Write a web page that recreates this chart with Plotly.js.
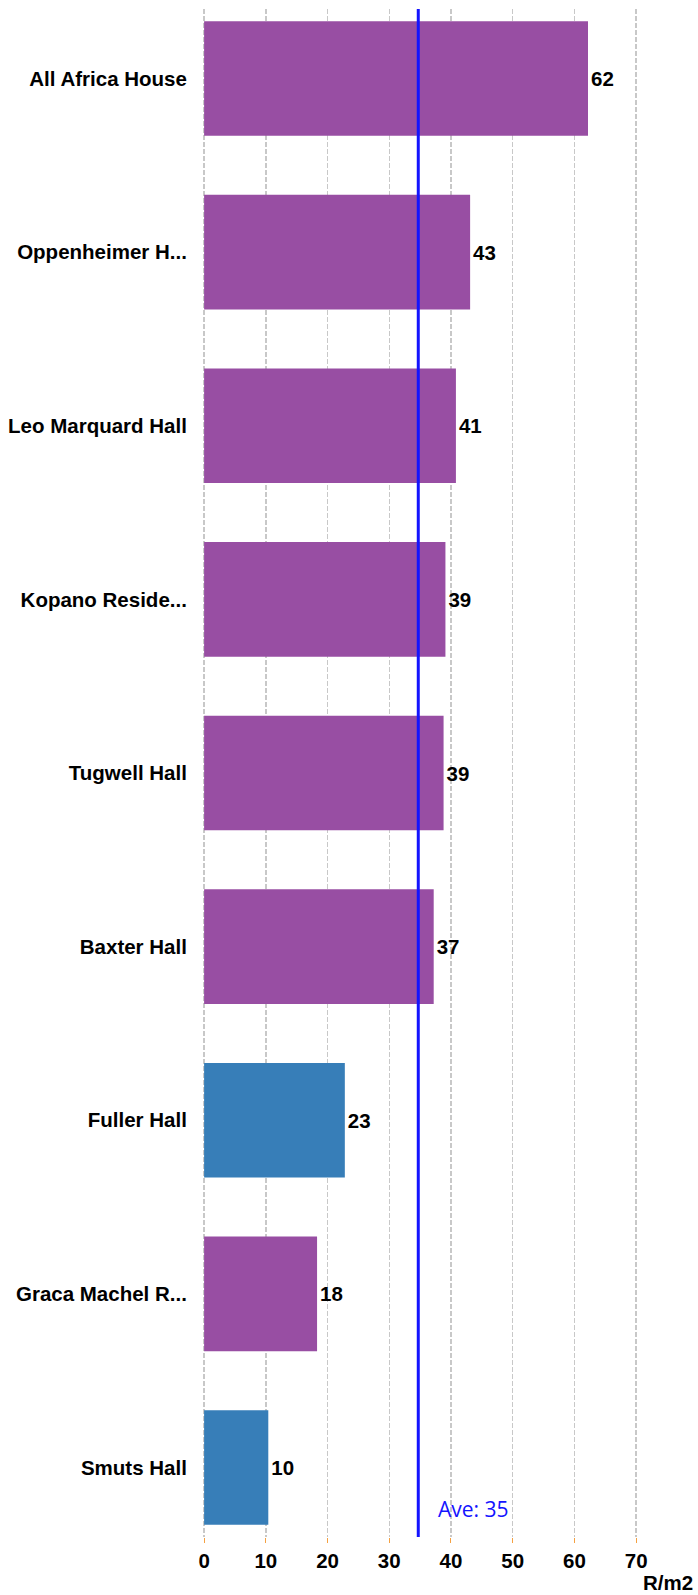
<!DOCTYPE html>
<html>
<head>
<meta charset="utf-8">
<script src="https://cdn.plot.ly/plotly-3.0.1.min.js"></script>
<style>html,body{margin:0;padding:0;background:#fff;}#chart{width:698px;height:1595px;}</style>
</head>
<body>
<div id="chart"></div>
<script>
// Data
const categories = ["All Africa House", "Oppenheimer H...", "Leo Marquard Hall", "Kopano Reside...", "Tugwell Hall", "Baxter Hall", "Fuller Hall", "Graca Machel R...", "Smuts Hall"];
const values = [62.2, 43.1, 40.8, 39.1, 38.8, 37.2, 22.8, 18.3, 10.4];
const groups = ["other", "other", "other", "other", "other", "other", "highlight", "other", "highlight"];
const average = 34.7;
const xTicks = [0, 10, 20, 30, 40, 50, 60, 70];
const xAxisLabel = "R/m2";

const groupColors = { other: "#984ea3", highlight: "#377eb8" };
const boldFont = { family: "Liberation Sans", size: 20.5, color: "#000", weight: "bold" };

const trace = {
  type: "bar",
  orientation: "h",
  y: categories,
  x: values,
  width: 0.66,
  marker: { color: groups.map(g => groupColors[g]) },
  text: values.map(v => String(Math.round(v))),
  textposition: "outside",
  textfont: boldFont,
  cliponaxis: false,
  hoverinfo: "none"
};

const layout = {
  width: 698,
  height: 1595,
  margin: { l: 203, r: 31, t: 9, b: 58 },
  paper_bgcolor: "#fff",
  plot_bgcolor: "#fff",
  showlegend: false,
  xaxis: {
    range: [-0.18, 75],
    tickvals: xTicks,
    ticktext: xTicks.map(String),
    showgrid: true,
    gridcolor: "#c8c8c8",
    griddash: "5px,2px",
    gridwidth: 1.5,
    zeroline: false,
    showline: false,
    ticks: "outside",
    ticklen: 5,
    tickcolor: "#f5a142",
    tickfont: boldFont
  },
  yaxis: {
    type: "category",
    range: [8.4, -0.4],
    autorange: false,
    showgrid: false,
    zeroline: false,
    showline: false,
    ticks: "outside",
    ticklen: 11,
    tickcolor: "rgba(0,0,0,0)",
    tickfont: boldFont
  },
  shapes: [{
    type: "line",
    xref: "x", yref: "paper",
    x0: average, x1: average, y0: 0, y1: 1,
    line: { color: "#1414ff", width: 3 }
  }],
  annotations: [
    {
      xref: "x", yref: "paper",
      x: average, y: 0,
      xanchor: "left", yanchor: "bottom",
      xshift: 18, yshift: 12,
      text: "Ave: " + Math.round(average),
      showarrow: false,
      font: { family: "Open Sans", size: 21, color: "#1414ff" }
    },
    {
      xref: "paper", yref: "paper",
      x: 1.0605, y: -0.0301,
      xanchor: "right", yanchor: "middle",
      text: xAxisLabel,
      showarrow: false,
      font: boldFont
    }
  ]
};

Plotly.newPlot("chart", [trace], layout, { displayModeBar: false, staticPlot: true });
</script>
</body>
</html>
